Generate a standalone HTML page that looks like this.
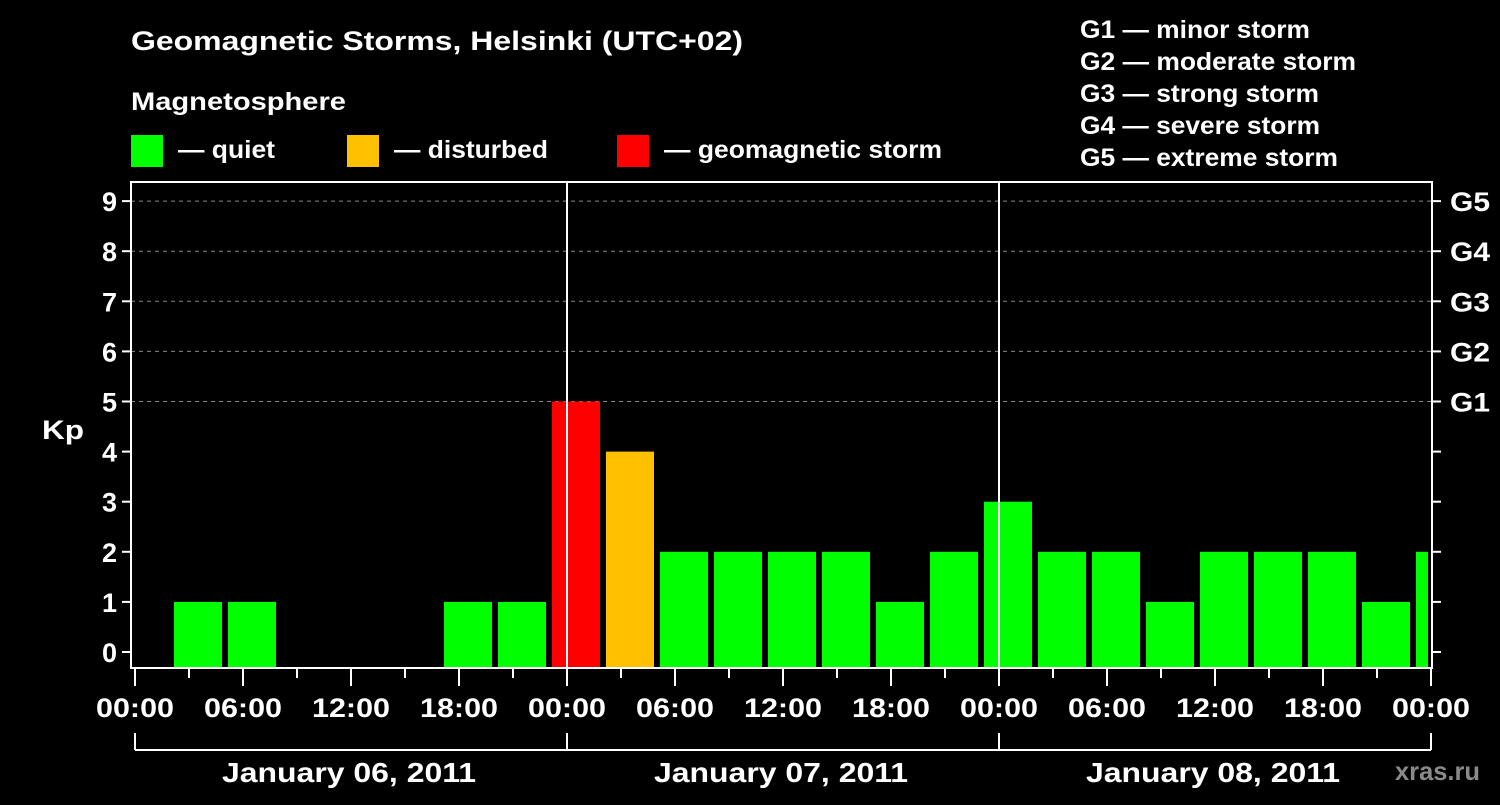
<!DOCTYPE html>
<html><head><meta charset="utf-8"><style>
body{margin:0;background:#000;width:1500px;height:800px;overflow:hidden}
svg text{font-family:"Liberation Sans",Arial,sans-serif;font-weight:bold;fill:#fff}
</style></head><body>
<svg id="c" width="1500" height="800" xmlns="http://www.w3.org/2000/svg">
<text x="131" y="50" font-size="27" textLength="612" lengthAdjust="spacingAndGlyphs">Geomagnetic Storms, Helsinki (UTC+02)</text>
<text x="131" y="110" font-size="25" textLength="215" lengthAdjust="spacingAndGlyphs">Magnetosphere</text>
<g><rect x="131" y="135" width="32" height="32" fill="#00ff00"/><text x="178" y="158" font-size="25" textLength="97" lengthAdjust="spacingAndGlyphs">— quiet</text></g>
<g><rect x="347" y="135" width="32" height="32" fill="#ffc000"/><text x="394" y="158" font-size="25" textLength="154" lengthAdjust="spacingAndGlyphs">— disturbed</text></g>
<g><rect x="617" y="135" width="32" height="32" fill="#ff0000"/><text x="664" y="158" font-size="25" textLength="278" lengthAdjust="spacingAndGlyphs">— geomagnetic storm</text></g>
<g font-size="25">
<text x="1080" y="38" textLength="230" lengthAdjust="spacingAndGlyphs">G1 — minor storm</text>
<text x="1080" y="70" textLength="276" lengthAdjust="spacingAndGlyphs">G2 — moderate storm</text>
<text x="1080" y="102" textLength="239" lengthAdjust="spacingAndGlyphs">G3 — strong storm</text>
<text x="1080" y="134" textLength="240" lengthAdjust="spacingAndGlyphs">G4 — severe storm</text>
<text x="1080" y="166" textLength="258" lengthAdjust="spacingAndGlyphs">G5 — extreme storm</text></g>
<text x="42" y="439" font-size="27" textLength="42" lengthAdjust="spacingAndGlyphs">Kp</text>
<text x="1395" y="780" font-size="26" textLength="85" lengthAdjust="spacingAndGlyphs" style="fill:#8a8a8a">xras.ru</text>
<g id="grid"></g><g id="bars"></g><g id="axes"></g>
</svg>
<script>
const values=[0,1,1,0,0,0,1,1,5,4,2,2,2,2,1,2,3,2,2,1,2,2,2,1,2];
const yTicks=[0,1,2,3,4,5,6,7,8,9];
const gLabels=["G1","G2","G3","G4","G5"];
const timeLabels=["00:00","06:00","12:00","18:00","00:00","06:00","12:00","18:00","00:00","06:00","12:00","18:00","00:00"];
const dayLabels=["January 06, 2011","January 07, 2011","January 08, 2011"];
const NS="http://www.w3.org/2000/svg";
const L=131,R=1432,T=182,B=668;
const y=v=>652-v*50.1;
const xh=h=>135+h*18;
function mk(p,t,a){const e=document.createElementNS(NS,t);for(const k in a)e.setAttribute(k,a[k]);p.appendChild(e);return e;}
const grid=document.getElementById('grid'),bars=document.getElementById('bars'),axes=document.getElementById('axes');
for(let v=5;v<=9;v++){const l=mk(grid,'line',{x1:L,x2:R,y1:y(v),y2:y(v),stroke:'#888','stroke-dasharray':'4,4','stroke-width':1});

}
values.forEach((v,i)=>{if(v<=0)return;const x0=xh(3*i)-15;const w=Math.min(48,R-4-x0);
const c=v>=5?'#ff0000':v>=4?'#ffc000':'#00ff00';
const r=mk(bars,'rect',{x:x0,y:y(v),width:w,height:B-y(v),fill:c});

});
[567,999].forEach(x=>{const l=mk(axes,'line',{x1:x,x2:x,y1:T,y2:B,stroke:'#fff','stroke-width':2});

});
const box=mk(axes,'rect',{x:L,y:T,width:R-L,height:B-T,fill:'none',stroke:'#fff','stroke-width':2});


yTicks.forEach(v=>{mk(axes,'line',{x1:L-9,x2:L,y1:y(v),y2:y(v),stroke:'#fff','stroke-width':2});
mk(axes,'line',{x1:R,x2:R+9,y1:y(v),y2:y(v),stroke:'#fff','stroke-width':2});
const t=mk(axes,'text',{x:L-14,y:y(v)+10,'font-size':27,'text-anchor':'end'});t.textContent=v;

});
gLabels.forEach((g,i)=>{const t=mk(axes,'text',{x:1450,y:y(5+i)+10,'font-size':27,textLength:40,lengthAdjust:'spacingAndGlyphs'});t.textContent=g;

});
for(let h=0;h<=72;h+=3){const maj=h%6==0;mk(axes,'line',{x1:xh(h),x2:xh(h),y1:B,y2:B+(maj?18:10),stroke:'#fff','stroke-width':2});}
timeLabels.forEach((s,i)=>{const t=mk(axes,'text',{x:xh(6*i)-39,y:717,'font-size':27,textLength:78,lengthAdjust:'spacingAndGlyphs'});t.textContent=s;

});
mk(axes,'line',{x1:135,x2:1431,y1:750,y2:750,stroke:'#fff','stroke-width':2});
[135,567,999,1431].forEach(x=>mk(axes,'line',{x1:x,x2:x,y1:733,y2:750,stroke:'#fff','stroke-width':2}));
dayLabels.forEach((s,i)=>{const t=mk(axes,'text',{x:222+432*i,y:782,'font-size':28,textLength:254,lengthAdjust:'spacingAndGlyphs'});t.textContent=s;

});
</script>
</body></html>
